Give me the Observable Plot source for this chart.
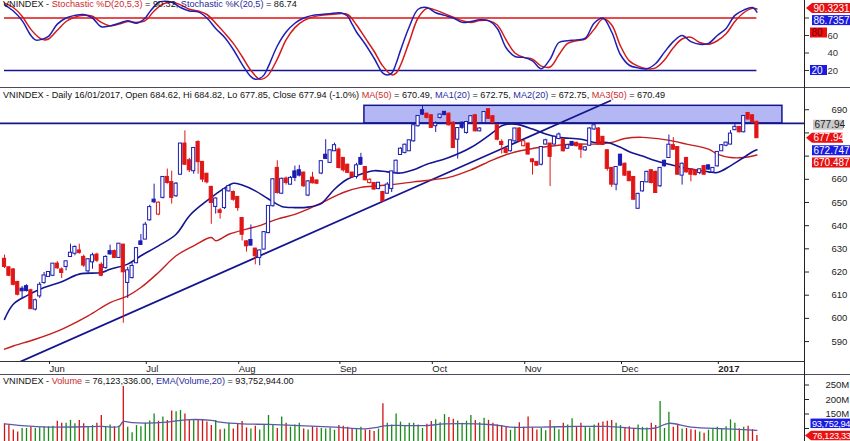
<!DOCTYPE html>
<html><head><meta charset="utf-8">
<script src="https://cdn.jsdelivr.net/npm/d3@7"></script>
<script src="https://cdn.jsdelivr.net/npm/@observablehq/plot@0.6"></script>
<style>
html,body{margin:0;padding:0;overflow:hidden;background:#fff;}
#root{position:relative;width:850px;height:441px;overflow:hidden;font-family:"Liberation Sans",Arial,sans-serif;background:#fff;}
.hdr{position:absolute;left:3px;font-size:9.15px;line-height:11px;white-space:nowrap;color:#111;}
.r{color:#cc2a2a}.b{color:#2b2b9c}
.sep{position:absolute;left:0;width:850px;height:1px;background:#4e4a5a;}
.vline{position:absolute;left:804px;top:0;width:1px;height:441px;background:#222;}
</style></head><body><div id="root"></div><script>
// ---------- data (bar index 0 = mid-May 2016, 171 = 16/01/2017) ----------
const priceOpen = [625.5,621.8,620.9,615.5,612.6,613.7,611.9,604.0,609.7,615.5,618.1,618.6,623.4,620.9,622.4,626.7,628.1,629.1,626.3,620.5,624.4,627.3,622.9,621.9,628.8,628.8,626.3,631.6,615.5,617.6,624.0,633.0,634.2,642.5,651.0,645.0,652.2,660.8,658.6,652.9,662.2,675.2,668.0,663.7,675.9,667.3,662.2,656.5,648.3,646.4,647.8,655.0,654.3,652.2,643.1,633.0,633.6,629.9,626.3,629.9,637.0,648.6,664.7,654.0,660.1,657.9,663.2,663.7,662.7,653.2,660.5,659.3,662.7,670.4,667.3,672.3,672.6,669.0,666.1,662.7,661.2,669.0,665.1,658.6,658.2,656.0,654.3,654.0,656.0,663.0,670.7,671.6,672.3,676.6,683.1,689.6,688.1,687.4,683.1,686.7,688.9,688.1,684.2,677.3,684.2,680.2,684.5,687.4,680.9,684.5,690.0,687.0,683.1,675.9,673.0,672.3,676.6,681.7,674.5,675.2,668.4,667.3,666.5,675.2,675.2,675.2,677.6,677.0,673.4,675.9,675.5,674.5,672.7,674.7,681.7,681.7,678.1,672.3,664.7,657.9,670.4,666.5,663.0,660.8,647.5,655.0,658.9,663.7,663.0,657.2,667.8,669.4,674.5,673.7,661.8,669.0,664.1,663.7,662.9,665.5,665.8,663.2,665.8,672.3,674.7,675.2,681.4,682.4,680.5,688.4,687.4,684.62];
const priceHigh = [627.3,622.4,621.5,616.0,613.7,614.5,612.6,608.3,615.5,619.8,620.1,623.6,624.5,621.8,624.8,632.0,631.3,632.0,627.3,625.8,628.1,628.1,624.0,627.0,631.6,629.5,632.3,632.0,622.0,623.8,630.6,636.2,641.4,648.8,657.9,650.2,661.2,664.4,663.5,658.6,675.5,680.9,669.0,673.7,676.6,667.6,662.5,657.0,652.0,647.4,656.0,657.2,655.0,652.5,643.5,633.5,640.3,630.2,629.5,637.4,648.6,660.2,668.0,660.5,661.0,661.2,665.7,666.0,663.0,659.5,663.0,659.6,668.0,677.1,672.6,675.6,673.5,669.4,666.5,663.0,666.9,671.2,665.5,660.2,658.6,658.6,654.8,658.6,663.5,668.3,673.6,675.2,677.0,683.5,687.5,691.4,688.5,687.8,684.8,688.1,689.2,688.6,684.8,682.3,684.8,685.0,687.4,688.0,682.3,689.3,690.3,687.4,683.5,677.0,673.5,677.0,682.0,682.3,676.8,675.6,668.8,667.6,674.1,677.3,675.5,678.5,680.0,677.6,675.0,676.3,676.0,674.8,674.1,682.3,683.8,682.3,678.5,672.7,665.0,665.5,670.8,667.0,663.5,661.2,654.0,659.0,663.5,664.0,663.5,665.0,668.2,679.1,678.0,674.0,667.0,669.4,664.5,664.0,664.5,665.8,666.2,665.0,672.0,675.0,676.0,681.0,683.8,682.8,687.5,688.8,687.8,684.82];
const priceLow = [621.5,618.0,614.0,609.7,608.6,611.4,604.0,603.2,608.6,614.7,617.8,618.0,621.2,617.2,620.5,626.4,627.0,627.7,622.0,619.1,621.2,624.1,618.0,621.2,627.3,625.8,625.8,597.9,608.6,617.0,623.6,631.6,634.0,642.0,649.5,644.3,651.5,657.9,649.3,652.2,661.8,666.0,662.9,662.2,662.2,658.6,658.0,640.6,645.0,642.8,647.0,654.5,650.5,646.2,633.4,628.6,631.3,623.1,622.7,629.5,636.5,648.0,653.6,653.5,657.5,657.5,659.0,661.0,656.5,652.5,658.0,657.8,662.0,668.5,666.8,672.0,664.5,663.1,662.5,660.5,660.1,666.1,659.3,658.0,655.3,655.5,650.2,653.6,654.3,662.7,670.4,670.9,672.0,676.0,682.5,687.5,686.0,682.0,680.2,686.0,687.5,683.0,673.3,668.7,681.5,679.5,684.0,680.5,680.5,684.0,685.9,684.0,676.6,670.9,670.9,671.8,676.0,676.0,674.0,670.4,661.8,665.7,665.8,674.8,656.9,674.8,677.0,671.8,673.0,674.2,674.0,669.0,672.0,674.2,681.2,674.8,674.6,663.5,656.5,655.0,665.7,661.2,659.0,651.0,647.0,654.5,658.5,658.0,654.0,656.5,665.3,669.0,672.5,661.8,657.5,662.7,658.9,661.5,662.0,661.8,664.0,662.7,665.3,672.0,674.0,674.8,681.0,680.0,680.0,685.6,684.2,677.85];
const priceClose = [622.4,618.6,614.7,610.4,611.9,612.0,604.2,607.6,614.3,618.3,619.8,623.4,621.8,619.8,624.4,628.1,630.6,628.4,623.0,625.3,627.0,625.1,618.6,626.3,627.8,626.3,632.0,620.1,620.5,622.4,630.1,631.9,640.2,647.8,650.3,649.7,660.8,658.6,652.2,657.9,675.2,666.5,664.1,673.3,667.6,660.1,658.9,650.0,651.5,645.7,655.5,656.9,651.4,647.8,636.3,631.3,631.6,627.0,629.1,637.0,648.3,659.8,654.3,660.0,658.6,660.4,660.8,661.8,657.2,658.9,658.5,658.3,667.6,669.0,672.3,674.5,665.1,664.1,663.0,661.2,665.8,666.5,659.8,659.6,655.8,658.3,650.7,657.5,663.2,667.8,673.0,674.7,676.6,683.1,687.1,688.1,686.7,682.4,683.8,687.7,687.9,683.5,673.7,681.9,682.4,684.5,687.0,680.9,681.7,688.8,686.3,684.5,677.3,675.0,671.6,676.6,681.7,676.6,676.2,670.9,667.6,666.1,673.7,676.6,669.9,678.1,679.1,672.3,674.5,674.7,674.5,673.0,673.6,681.7,683.1,675.2,675.0,664.7,657.9,665.1,666.1,661.8,659.4,651.4,653.5,658.6,663.0,658.6,654.3,664.7,665.8,674.7,673.0,662.2,666.5,663.2,662.2,662.0,664.1,662.2,664.4,664.7,671.6,674.5,675.6,679.5,682.4,680.5,687.1,686.0,684.8,677.94];
const volumeM = [116,110,95,88,100,100,104,100,103,105,106,108,125,118,118,128,116,128,116,104,110,118,145,104,112,106,108,245,104,85,110,106,118,126,150,125,140,128,160,158,162,150,130,128,128,128,122,110,128,96,98,118,98,116,124,102,98,108,95,110,145,112,100,140,118,105,112,118,98,95,106,102,100,98,102,94,110,108,104,100,98,104,95,94,90,98,185,118,112,150,122,108,118,118,112,100,115,124,130,120,148,138,132,126,118,125,145,128,120,135,128,118,112,110,104,94,105,120,104,140,102,95,100,92,128,105,96,118,112,134,104,118,106,102,112,118,122,125,128,118,110,100,106,100,112,104,102,118,110,193,100,156,104,110,98,100,96,94,88,84,94,98,104,100,106,130,118,98,104,108,96,76.1];

const monthLabels = ["Jun","Jul","Aug","Sep","Oct","Nov","Dec","2017"];
const monthStartBar = [10,32,53,76,97,118,140,162];
const priceTicks = [590,600,610,620,630,640,650,660,670,680,690];
const priceTickLabels = ["590","600","610","620","630","640","650","660","","","690"];
const stochTicks = [20,40,60,80];
const stochTickLabels = ["20","40","60",""];
const volumeTicks = [100,150,200,250];
const volumeTickLabels = ["","150M","200M","250M"];

const ma20Bar = [0,2,5,9,13,17,22,24,28,31,35,39,42,45,47,48,50,52,54,57,60,63,66,69,72,73,75,78,81,84,87,90,93,96,101,106,111,113,116,120,123,126,131,134,137,140,142,145,148,151,154,157,160,162,165,168,170,171];
const ma20Val = [599.6,606.1,609.7,613.3,615.8,619.1,619.8,621.2,623.4,627.0,631.3,636.3,644.2,649.3,652.2,653.6,656.2,658.3,657.5,655.0,651.5,648.3,647.8,648.0,649.5,651.4,655.7,660.1,662.2,663.7,663.2,662.7,664.1,666.5,669.4,673.7,680.2,683.1,683.8,681.7,679.5,678.1,677.3,675.9,675.9,673.8,671.9,670.0,668.0,666.5,665.1,664.1,663.2,662.9,665.8,669.4,671.9,672.75];
const ma50Bar = [0,2,7,13,19,24,28,31,35,39,43,47,48,51,55,58,62,66,69,73,77,81,85,89,93,96,101,106,111,115,120,125,130,135,138,141,145,150,155,160,162,165,168,171];
const ma50Val = [586.7,588.1,591.0,595.3,601.1,606.8,609.7,613.3,619.8,627.0,631.3,634.9,633.5,636.3,638.5,640.0,642.8,644.9,647.1,650.7,654.3,656.5,657.2,657.9,658.9,659.5,660.8,664.1,668.4,671.2,673.3,674.5,675.2,675.2,675.9,677.6,678.1,677.1,675.2,673.0,670.9,669.4,669.4,670.49];

const trendBar = [0, 137.7];
const trendVal = [578.3, 693.9];
const resistanceLevel = [684.1];
const zoneBar = [81.8, 176.8];
const zoneVal = [684.1, 691.7];

const stochKBar = [0,2,4,6,7,8,10,12,14,16,18,20,22,24,26,28,30,32,33,34,35,36,38,40,42,44,46,48,50,52,54,56,57,58,59,60,62,64,66,68,70,72,74,76,77,78,79,80,82,84,86,87,88,89,90,92,94,96,98,100,102,104,106,108,110,112,114,116,118,120,122,124,126,128,130,132,134,136,138,140,142,144,146,148,150,152,154,156,158,160,162,164,166,168,170,171];
const stochKVal = [95,88,77,60,55,55,59,73,80,83,84,80,70,71,74,77,74,80,87,93,98,99,98,92,88,87,80,68,58,44,27,13,10,11,15,25,48,64,74,80,83,84,85,86,85,82,73,64,50,34,17,15,17,28,43,70,90,92,86,83,80,75,76,78,77,68,46,36,35,31,22,33,52,54,55,57,74,80,64,38,26,23,22,28,41,53,60,53,50,51,60,68,83,89,92,86.74];
const stochDBar = [0,2,4,6,8,9,10,12,14,16,18,20,22,24,26,28,30,32,34,36,38,40,42,44,46,48,50,52,54,56,58,59,60,62,64,66,68,70,72,74,76,78,80,82,84,86,88,89,90,92,94,96,98,100,102,104,106,108,110,112,114,116,118,120,122,124,126,128,130,132,134,136,138,140,142,144,146,148,150,152,154,156,158,160,162,164,166,168,170,171];
const stochDVal = [97,92,82,67,57,55,56,66,76,81,83,82,75,71,73,76,75,77,88,96,98,95,90,88,84,74,63,51,36,20,10,11,15,33,55,69,77,81,83,84,85,84,72,57,42,25,15,17,26,53,80,91,89,85,81,77,75,77,77,72,55,40,35,33,25,24,38,51,54,56,67,79,72,48,31,25,22,23,32,46,56,58,52,50,54,62,76,86,91,90.32];
const stochLevels = [80, 20];

const volEmaBar = [0,4,10,22,26,27,29,37,41,47,49,54,60,67,75,82,85,87,96,100,111,115,122,130,137,145,148,151,156,164,171];
const volEmaVal = [116,110,105,107,107,124,120,122,130,128,122,116,114,110,105,99,105,110,110,116,113,105,105,107,107,99,102,118,105,99,93.75];

// ---------- helpers ----------
const BLUE = "#1c1cb0", RED = "#e01616", NAVY = "#15158f";
const X0 = 4, STEP = 4.4, AXISX = 804;
const xDomain = [-X0/STEP, (AXISX - X0)/STEP];
const font = "'Liberation Sans', Arial, sans-serif";
const root = document.getElementById("root");

const bars = priceOpen.map((o, i) => {
  const c = priceClose[i];
  const prev = i === 0 ? o : priceClose[i - 1];
  const col = c >= prev ? BLUE : RED;
  return {i, o, h: priceHigh[i], l: priceLow[i], c, col, fill: c < o ? col : "#ffffff", vol: volumeM[i], vcol: c >= prev ? "#138a13" : "#d40f0f"};
});
const pts = (bx, vals) => bx.map((b, k) => ({i: b, v: vals[k]}));
const lab = (ticks, labels) => d => labels[ticks.indexOf(d)];

function place(el, top) { el.style.position = "absolute"; el.style.left = "0px"; el.style.top = top + "px"; root.appendChild(el); return el; }
function badge(svg, {x, y, w, h = 10, text, bg, fg = "#fff", arrow = false, size = 10, spacing = 0}) {
  const g = d3.select(svg).append("g").attr("text-anchor", "start");
  if (arrow) {
    g.append("path").attr("d", `M${x - 6},${y} L${x},${y - h / 2} L${x + w},${y - h / 2} L${x + w},${y + h / 2} L${x},${y + h / 2} Z`).attr("fill", bg);
  } else {
    g.append("rect").attr("x", x).attr("y", y - h / 2).attr("width", w).attr("height", h).attr("fill", bg);
  }
  g.append("text").attr("x", x + 1.5).attr("y", y).attr("dy", "0.36em").attr("fill", fg).attr("text-anchor", "start")
    .attr("font-size", size).attr("letter-spacing", spacing).attr("font-family", font).text(text);
}
function header(top, parts) {
  const d = document.createElement("div");
  d.className = "hdr"; d.style.top = top + "px";
  parts.forEach(([t, cls]) => { const s = document.createElement("span"); if (cls) s.className = cls; s.textContent = t; d.appendChild(s); });
  root.appendChild(d);
}

// ---------- stochastic panel ----------
const stoch = Plot.plot({
  width: 850, height: 87, marginLeft: 0, marginRight: 46, marginTop: 0, marginBottom: 0,
  x: {domain: xDomain, axis: null},
  y: {domain: [0, 100], range: [87.5, 0], axis: null},
  style: {fontFamily: font, fontSize: "9.5px", color: "#333", background: "transparent", overflow: "visible"},
  marks: [
    Plot.ruleY(stochLevels, {y: d => d, x1: 0, x2: priceOpen.length - 1, stroke: d => d === 80 ? "#e01010" : NAVY, strokeWidth: 1.6}),
    Plot.line(pts(stochDBar, stochDVal), {x: "i", y: "v", stroke: "#d41a1a", strokeWidth: 1.5, curve: "catmull-rom"}),
    Plot.line(pts(stochKBar, stochKVal), {x: "i", y: "v", stroke: "#1e1eb4", strokeWidth: 1.5, curve: "catmull-rom"}),
    Plot.axisY({anchor: "right", ticks: stochTicks, tickFormat: lab(stochTicks, stochTickLabels), tickSize: 4, tickPadding: 19, label: null, fontSize: 9.5})
  ]
});
place(stoch, 0);
{
  const y = stoch.scale("y");
  badge(stoch, {x: 812, y: y.apply(90.32) - 0.5, w: 38, text: "90.3231", bg: "#e81010", arrow: true});
  badge(stoch, {x: 812, y: y.apply(86.7357) + 8.5, w: 38, text: "86.7357", bg: "#1a1ae0"});
  badge(stoch, {x: 810, y: y.apply(80) + 15, w: 17, text: "80", bg: "#e81010", fg: "#700"});
  badge(stoch, {x: 810, y: y.apply(20), w: 17, text: "20", bg: "#1a1ae0"});
}

// ---------- price panel ----------
const price = Plot.plot({
  width: 850, height: 287, marginLeft: 0, marginRight: 46, marginTop: 0, marginBottom: 13,
  x: {domain: xDomain},
  y: {domain: [581.4, 699.6], axis: null},
  color: {type: "identity"},
  style: {fontFamily: font, fontSize: "9.5px", color: "#222", background: "transparent", overflow: "visible"},
  marks: [
    Plot.rect([0], {x1: zoneBar[0], x2: zoneBar[1], y1: zoneVal[0], y2: zoneVal[1], fill: "#b3b8f4", stroke: NAVY, strokeWidth: 1.5}),
    Plot.ruleY(resistanceLevel, {stroke: NAVY, strokeWidth: 1.8}),
    Plot.line(pts(trendBar, trendVal), {x: "i", y: "v", stroke: NAVY, strokeWidth: 1.8, clip: true}),
    Plot.line(pts(ma50Bar, ma50Val), {x: "i", y: "v", stroke: "#c41e1e", strokeWidth: 1.4, curve: "catmull-rom"}),
    Plot.line(pts(ma20Bar, ma20Val), {x: "i", y: "v", stroke: NAVY, strokeWidth: 1.6, curve: "catmull-rom"}),
    Plot.ruleX(bars, {x: "i", y1: "l", y2: "h", stroke: "col", strokeWidth: 1}),
    Plot.rect(bars, {x1: d => d.i - 0.36, x2: d => d.i + 0.36, y1: "o", y2: "c", fill: "fill", stroke: "col", strokeWidth: 1, insetTop: -0.5, insetBottom: -0.5}),
    Plot.frame({anchor: "bottom", stroke: "#333"}),
    Plot.axisY({anchor: "right", ticks: priceTicks, tickFormat: lab(priceTicks, priceTickLabels), tickSize: 4, tickPadding: 23, label: null, fontSize: 9.5}),
    Plot.axisX({anchor: "bottom", ticks: monthStartBar, tickFormat: lab(monthStartBar, monthLabels), tickSize: 3, tickPadding: 1, textAnchor: "start", dx: 1, label: null, fontSize: 9.5})
  ]
});
place(price, 87);
d3.select(price).selectAll("text").filter(function () { return this.textContent === "2017"; }).attr("font-weight", "bold");
{
  const y = price.scale("y");
  const last = priceClose[priceClose.length - 1];
  badge(price, {x: 813, y: y.apply(last) - 12.5, w: 30, text: last.toFixed(2), bg: "#c9c9c9", fg: "#222"});
  badge(price, {x: 812, y: y.apply(last) + 0.5, w: 31, text: last.toFixed(2), bg: "#e81010", arrow: true});
  badge(price, {x: 812, y: y.apply(672.747) + 1, w: 38, text: "672.747", bg: "#1a1ae0"});
  badge(price, {x: 812, y: y.apply(670.487) + 8, w: 38, text: "670.487", bg: "#e81010"});
}

// ---------- volume panel ----------
const volume = Plot.plot({
  width: 850, height: 83, marginLeft: 0, marginRight: 46, marginTop: 0, marginBottom: 0,
  x: {domain: xDomain, axis: null},
  y: {domain: [0, 250], range: [83, 10.5], axis: null},
  color: {type: "identity"},
  style: {fontFamily: font, fontSize: "9.5px", color: "#222", background: "transparent", overflow: "visible"},
  marks: [
    Plot.ruleX(bars, {x: "i", y1: 0, y2: "vol", stroke: "vcol", strokeWidth: 1.3}),
    Plot.line(pts(volEmaBar, volEmaVal), {x: "i", y: "v", stroke: "#5a5aa6", strokeWidth: 1.3, curve: "catmull-rom"}),
    Plot.axisY({anchor: "right", ticks: volumeTicks, tickFormat: lab(volumeTicks, volumeTickLabels), tickSize: 4, tickPadding: 17, label: null, fontSize: 9.5})
  ]
});
place(volume, 374);
{
  const y = volume.scale("y");
  badge(volume, {x: 810.5, y: y.apply(93.752944) - 6.5, h: 9.5, w: 40, text: "93,752,94", bg: "#1a1ae0", size: 9.2, spacing: -0.3});
  badge(volume, {x: 811, y: y.apply(76.123336) + 0.5, h: 9.5, w: 40, text: "76,123,33", bg: "#e81010", arrow: true, size: 9.2, spacing: -0.3});
}

// ---------- frame lines & headers ----------
[87, 374].forEach(t => { const s = document.createElement("div"); s.className = "sep"; s.style.top = t + "px"; root.appendChild(s); });
{ const v = document.createElement("div"); v.className = "vline"; root.appendChild(v); }

header(-1, [["VNINDEX - ", ""], ["Stochastic %D(20,5,3)", "r"], [" = 90.32, ", ""], ["Stochastic %K(20,5)", "b"], [" = 86.74", ""]]);
header(89.5, [["VNINDEX - Daily 16/01/2017, Open 684.62, Hi 684.82, Lo 677.85, Close 677.94 (-1.0%) ", ""], ["MA(50)", "r"], [" = 670.49, ", ""], ["MA1(20)", "b"], [" = 672.75, ", ""], ["MA2(20)", "b"], [" = 672.75, ", ""], ["MA3(50)", "r"], [" = 670.49", ""]]);
header(376, [["VNINDEX - ", ""], ["Volume", "r"], [" = 76,123,336.00, ", ""], ["EMA(Volume,20)", "b"], [" = 93,752,944.00", ""]]);
</script></body></html>
